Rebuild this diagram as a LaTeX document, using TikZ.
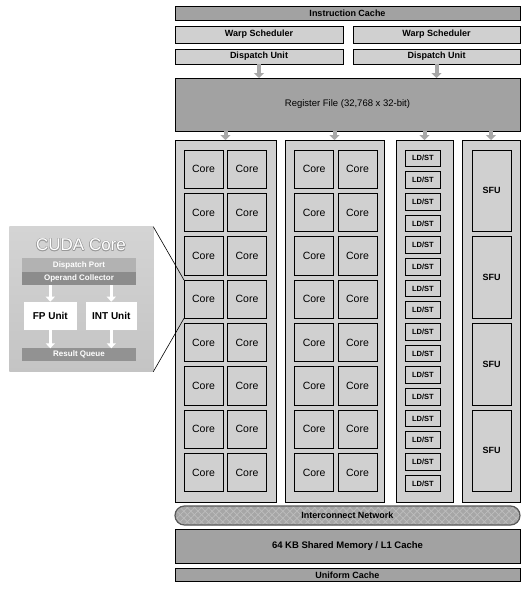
\documentclass[tikz,border=0pt]{standalone}
\usepackage{fontspec}
\setmainfont{Liberation Sans}
\usetikzlibrary{arrows.meta,patterns.meta}
\definecolor{darkfill}{HTML}{A2A2A2}
\definecolor{lightfill}{HTML}{D0D0D0}
\definecolor{arrowgrey}{HTML}{A8A8A8}
\definecolor{netfill}{HTML}{A6A6A6}
\definecolor{nethatch}{HTML}{BEBEBE}
\definecolor{cudatop}{HTML}{D4D4D4}
\definecolor{cudabot}{HTML}{C4C4C4}
\definecolor{portfill}{HTML}{B2B2B2}
\definecolor{opfill}{HTML}{8C8C8C}
\definecolor{rqfill}{HTML}{929292}
\tikzset{
  base/.style={inner sep=0pt,outer sep=0pt,draw=black,line width=0.8pt},
  darkbox/.style={base,fill=darkfill},
  lightbox/.style={base,fill=lightfill},
  holder/.style={base,fill=lightfill,minimum height=362pt},
  corecell/.style={base,fill=lightfill,minimum width=39pt,minimum height=38.3pt,font=\fontsize{10.5}{11}\selectfont},
  ldcell/.style={base,fill=lightfill,minimum width=34.3pt,minimum height=16.7pt,font=\fontsize{7.5}{8}\selectfont\bfseries},
  sfucell/.style={base,fill=lightfill,minimum width=38.7pt,minimum height=81.7pt,font=\fontsize{9}{10}\selectfont\bfseries},
  lbl/.style={font=\fontsize{9}{10}\selectfont\bfseries},
  greyarrow/.style={draw=arrowgrey,line width=4pt,-{Triangle[width=10pt,length=5pt]}},
  whitearrow/.style={draw=white,line width=3pt,-{Triangle[width=9pt,length=5pt]}},
  innerbar/.style={inner sep=0pt,outer sep=0pt,minimum width=114pt,text=white,font=\fontsize{8}{9}\selectfont\bfseries},
  unitbox/.style={inner sep=0pt,outer sep=0pt,fill=white,minimum height=28.3pt,font=\fontsize{10}{11}\selectfont\bfseries},
}
\begin{document}
\begin{tikzpicture}[x=1pt,y=-1pt]
\useasboundingbox (0,0) rectangle (524,589);
\fill[white] (0,0) rectangle (524,589);

% top blocks
\node[darkbox,minimum width=345pt,minimum height=14pt,lbl] (icache) at (347.5,13) {Instruction Cache};
\node[lightbox,minimum width=168pt,minimum height=17pt,lbl] (warp1) at (259,34.5) {Warp Scheduler};
\node[lightbox,minimum width=167pt,minimum height=17pt,lbl] (warp2) at (436.5,34.5) {Warp Scheduler};
\node[lightbox,minimum width=168pt,minimum height=15pt,lbl] (disp1) at (259,56.5) {Dispatch Unit};
\node[lightbox,minimum width=167pt,minimum height=15pt,lbl] (disp2) at (436.5,56.5) {Dispatch Unit};
\node[darkbox,minimum width=345pt,minimum height=53pt,font=\fontsize{9.5}{10}\selectfont] (reg) at (347.5,104.5) {Register File (32,768 x 32-bit)};

\draw[greyarrow] (disp1.south) -- (reg.north -| disp1.south);
\draw[greyarrow] (disp2.south) -- (reg.north -| disp2.south);

% holders
\node[holder,minimum width=101pt] (h1) at (225.5,321) {};
\node[holder,minimum width=99pt] (h2) at (334.5,321) {};
\node[holder,minimum width=57pt] (h3) at (424.5,321) {};
\node[holder,minimum width=58pt] (h4) at (491,321) {};

\foreach \h in {h1,h2,h3,h4}{
  \draw[greyarrow] (reg.south -| \h.north) -- (\h.north);
}

% cores
\foreach \i in {0,...,7}{
  \pgfmathsetmacro{\cy}{169.2+43.33*\i}
  \node[corecell] (a\i) at (203.5,\cy) {Core};
  \node[corecell] (b\i) at (247,\cy) {Core};
  \node[corecell] (c\i) at (314.2,\cy) {Core};
  \node[corecell] (d\i) at (357.5,\cy) {Core};
}
% LD/ST
\foreach \i in {0,...,15}{
  \pgfmathsetmacro{\ly}{158.35+21.67*\i}
  \node[ldcell] (l\i) at (422.9,\ly) {LD/ST};
}
% SFU
\foreach \i in {0,...,3}{
  \pgfmathsetmacro{\sy}{190.85+86.67*\i}
  \node[sfucell] (s\i) at (491.7,\sy) {SFU};
}

% interconnect
\path[fill=netfill,rounded corners=9.5pt] (175,506) rectangle (520,525);
\path[pattern={Lines[angle=45,distance=5pt,line width=0.7pt]},pattern color=nethatch,rounded corners=9.5pt] (175,506) rectangle (520,525);
\path[pattern={Lines[angle=-45,distance=5pt,line width=0.7pt]},pattern color=nethatch,rounded corners=9.5pt] (175,506) rectangle (520,525);
\node[draw=black!65,line width=1.2pt,rounded corners=9.5pt,inner sep=0pt,outer sep=0pt,minimum width=345pt,minimum height=19pt,lbl] (net) at (347.5,515.5) {Interconnect Network};

\node[darkbox,minimum width=345pt,minimum height=34pt,font=\fontsize{9.5}{10}\selectfont\bfseries] (smem) at (347.5,546.3) {64 KB Shared Memory / L1 Cache};
\node[darkbox,minimum width=345pt,minimum height=13.4pt,lbl] (ucache) at (347.5,575) {Uniform Cache};

% CUDA core detail
\shade[top color=cudatop,bottom color=cudabot] (9.3,226.7) rectangle (153.3,371.7);
\node[inner sep=0pt,outer sep=0pt,minimum width=144pt,minimum height=145pt] (cuda) at (81.3,299.2) {};
\foreach \dx/\dy in {0.5/0,-0.5/0,0/0.5,0/-0.5,0.4/0.4,-0.4/-0.4,0.4/-0.4,-0.4/0.4}{
  \node[text=black!40,font=\fontsize{17}{18}\selectfont] at (81+\dx,245+\dy) {CUDA Core};
}
\node[text=white,font=\fontsize{17}{18}\selectfont] (title) at (81,245) {CUDA Core};
\node[innerbar,fill=portfill,minimum height=13.4pt] (port) at (79,265) {Dispatch Port};
\node[innerbar,fill=opfill,minimum height=13.3pt] (opc) at (79,278.35) {Operand Collector};
\node[unitbox,minimum width=52.7pt] (fp) at (50.3,315.85) {FP Unit};
\node[unitbox,minimum width=50.7pt] (int) at (111.3,315.85) {INT Unit};
\node[innerbar,fill=rqfill,minimum height=12.4pt] (rq) at (79,354.5) {Result Queue};

\draw[whitearrow] (opc.south -| fp.north) -- (fp.north);
\draw[whitearrow] (opc.south -| int.north) -- (int.north);
\draw[whitearrow] (fp.south) -- (rq.north -| fp.south);
\draw[whitearrow] (int.south) -- (rq.north -| int.south);

\draw[line width=0.6pt] (cuda.north east) -- (a3.north west);
\draw[line width=0.6pt] (cuda.south east) -- (a3.south west);
\end{tikzpicture}
\end{document}
